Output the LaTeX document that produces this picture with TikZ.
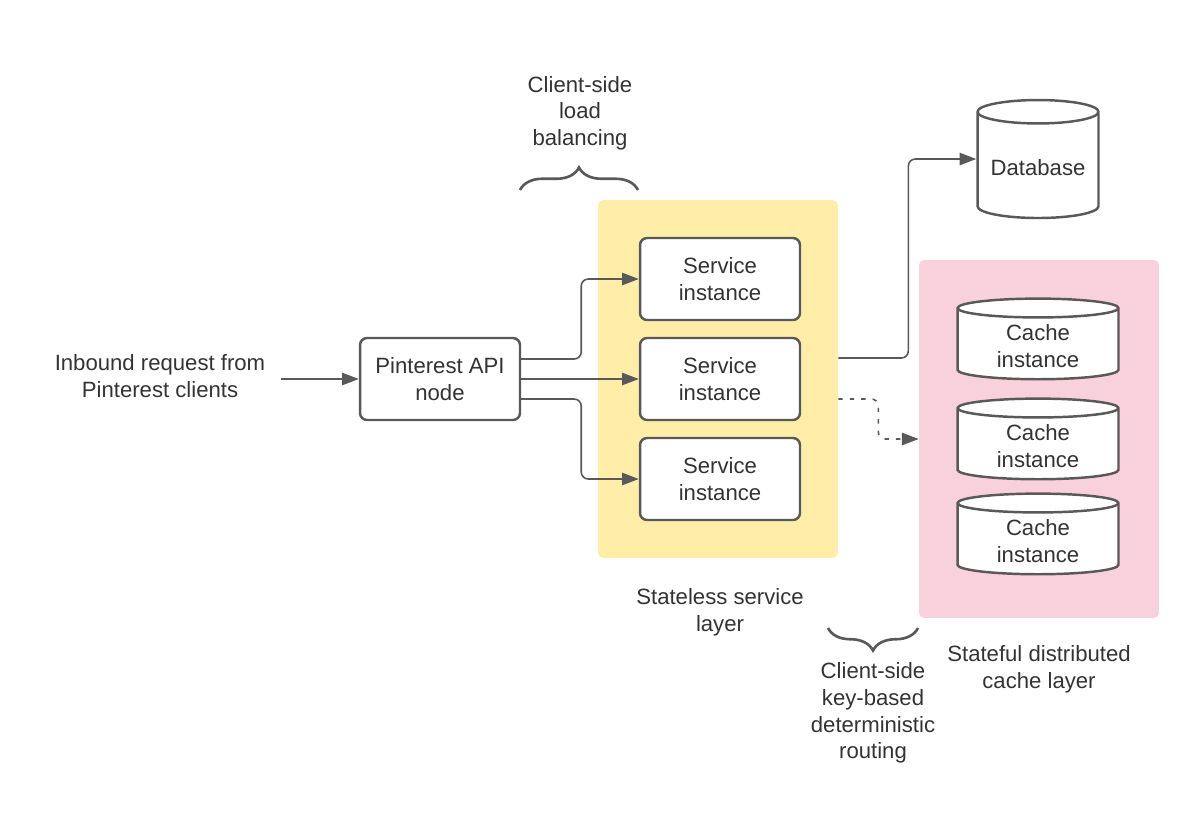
\documentclass[tikz,border=0pt]{standalone}
\usepackage{fontspec}
\setsansfont{Liberation Sans}
\usetikzlibrary{positioning, shapes.geometric, arrows.meta, decorations.pathreplacing}

\begin{document}
\begin{tikzpicture}[x=0.02cm, y=-0.02cm, font=\sffamily\fontsize{12.6}{15.2}\selectfont,
    svcbox/.style={draw=lineGray, line width=1.4pt, rounded corners=4pt, fill=white,
        text=textGray, align=center, minimum width=3.2cm, minimum height=1.64cm},
    store/.style={cylinder, shape border rotate=90, aspect=0.22, draw=lineGray,
        line width=1.4pt, fill=white, text=textGray, align=center},
    layer/.style={rounded corners=3pt, minimum width=4.8cm, minimum height=7.16cm},
    caption/.style={text=textGray, align=center},
    conn/.style={draw=lineGray, line width=0.9pt, rounded corners=4pt,
        -{Triangle[length=9.5pt, width=7pt]}},
    bracket/.style={draw=lineGray, line width=1.5pt,
        decorate, decoration={brace, amplitude=0.45cm}}]

% Define Colors
\colorlet{lineGray}{black!65}
\colorlet{textGray}{black!80}
\definecolor{stateYellow}{RGB}{255,237,168}
\definecolor{cachePink}{RGB}{249,209,221}

\useasboundingbox (0,0) rectangle (1200,819);

% --- SECTION 1: THE LAYERS (background boxes) ---
    \node[layer, fill=stateYellow] (stateless) at (718,379) {};
    \node[layer, fill=cachePink] (cachelayer) at (1039,439) {};

% --- SECTION 2: THE NODES ---
    \node[caption, inner xsep=0.3cm] (inbound) at (160,376) {Inbound request from\\Pinterest clients};
    \node[svcbox] (api) at (440,379) {Pinterest API\\node};

% Service instances (stacked in the yellow layer)
    \foreach \y/\name in {279/svcA, 379/svcB, 479/svcC}
    \node[svcbox] (\name) at (720,\y) {Service\\instance};

% Database and cache instances
    \node[store, minimum width=2.42cm, minimum height=2.36cm] (db) at (1038,168) {Database};
    \foreach \y/\name in {346/cacheA, 446/cacheB, 541/cacheC}
    \node[store, minimum width=3.22cm, minimum height=1.6cm, aspect=0.2] (\name) at (1038,\y) {Cache\\instance};

% --- SECTION 3: THE CONNECTORS ---
    \draw[conn] (inbound.east |- api.west) -- (api.west);
    \draw[conn] ([yshift=0.4cm]api.east) -- ++(60,0) |- (svcA.west);
    \draw[conn] (api.east) -- (svcB.west);
    \draw[conn] ([yshift=-0.4cm]api.east) -- ++(60,0) |- (svcC.west);
    \draw[conn] ([yshift=0.42cm]stateless.east) -- ++(70,0) |- (db.west |- db.shape center);
    \draw[conn, dash pattern=on 2.5pt off 4pt] ([yshift=-0.4cm]stateless.east) -- ++(40,0) |- (cachelayer.west);

% --- SECTION 4: BRACES AND CAPTIONS ---
    \draw[bracket] (520,190) -- (638,190);
    \node[caption] (lbtext) at (580,113) {Client-side\\load\\balancing};

    \draw[bracket] (918,628) -- (828,628);
    \node[caption] (routetext) at (873,713) {Client-side\\key-based\\deterministic\\routing};

    \node[caption] (statelesstext) at (720,612) {Stateless service\\layer};
    \node[caption] (cachetext) at (1039,669) {Stateful distributed\\cache layer};

\end{tikzpicture}
\end{document}
